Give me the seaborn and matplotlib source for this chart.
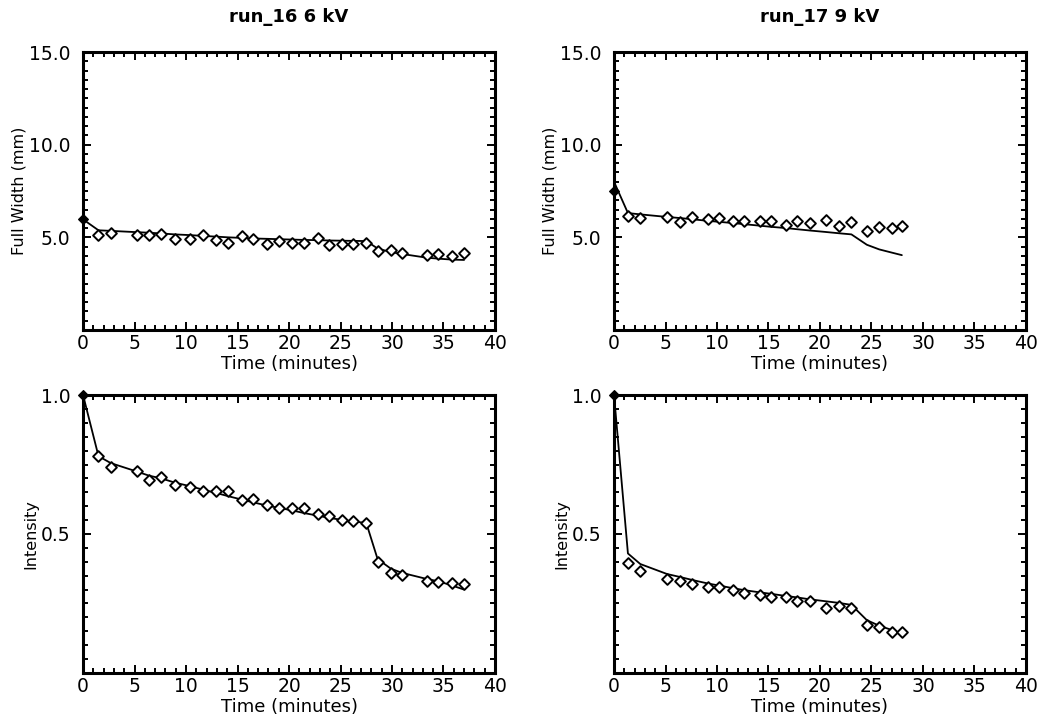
import matplotlib
matplotlib.use("Agg")
import matplotlib.pyplot as plt
import seaborn as sns
import pandas as pd
from matplotlib.ticker import MultipleLocator, FixedLocator, FormatStrFormatter

# run_16, 6 kV
t16 = [0, 1.5, 2.7, 5.2, 6.4, 7.6, 8.9, 10.4, 11.6, 12.9, 14.1, 15.4, 16.5, 17.9, 19.0,
       20.3, 21.5, 22.8, 23.9, 25.1, 26.2, 27.5, 28.6, 29.9, 31.0, 33.4, 34.5, 35.8, 37.0]
width16 = [5.97, 5.11, 5.25, 5.13, 5.13, 5.18, 4.93, 4.93, 5.15, 4.85, 4.71, 5.05, 4.89, 4.64, 4.78,
           4.68, 4.71, 4.95, 4.60, 4.64, 4.66, 4.68, 4.26, 4.30, 4.17, 4.03, 4.08, 3.97, 4.15]
width16_fit = [5.97, 5.38, 5.35, 5.28, 5.25, 5.21, 5.16, 5.12, 5.08, 5.04, 5.00, 4.97, 4.94, 4.92, 4.90,
               4.88, 4.86, 4.85, 4.83, 4.82, 4.81, 4.80, 4.40, 4.20, 4.10, 3.90, 3.85, 3.80, 3.78]
int16 = [1.00, 0.779, 0.740, 0.726, 0.696, 0.704, 0.676, 0.670, 0.656, 0.656, 0.656, 0.624, 0.626, 0.603, 0.595,
         0.592, 0.593, 0.571, 0.565, 0.551, 0.545, 0.541, 0.399, 0.358, 0.351, 0.330, 0.327, 0.322, 0.320]
int16_fit = [1.00, 0.780, 0.755, 0.725, 0.710, 0.700, 0.685, 0.672, 0.660, 0.648, 0.636, 0.624, 0.614, 0.602, 0.594,
             0.585, 0.575, 0.566, 0.558, 0.551, 0.545, 0.540, 0.410, 0.375, 0.360, 0.338, 0.330, 0.315, 0.300]

# run_17, 9 kV
t17 = [0, 1.35, 2.55, 5.15, 6.45, 7.55, 9.1, 10.15, 11.55, 12.65, 14.15, 15.2, 16.7, 17.75, 19.0,
       20.55, 21.85, 23.05, 24.55, 25.75, 26.95, 27.95]
width17 = [7.50, 6.14, 6.03, 6.10, 5.81, 6.08, 5.99, 6.03, 5.88, 5.86, 5.86, 5.88, 5.66, 5.88, 5.79,
           5.92, 5.63, 5.81, 5.32, 5.58, 5.50, 5.59]
width17_fit = [8.00, 6.31, 6.24, 6.10, 6.04, 5.98, 5.89, 5.84, 5.77, 5.71, 5.63, 5.57, 5.50, 5.44, 5.37,
               5.29, 5.22, 5.16, 4.60, 4.35, 4.18, 4.04]
int17 = [1.00, 0.396, 0.367, 0.337, 0.331, 0.321, 0.308, 0.310, 0.300, 0.289, 0.282, 0.272, 0.274, 0.259, 0.259,
         0.235, 0.242, 0.234, 0.173, 0.167, 0.149, 0.149]
int17_fit = [1.00, 0.430, 0.392, 0.356, 0.345, 0.335, 0.322, 0.315, 0.305, 0.298, 0.290, 0.285, 0.277, 0.272, 0.265,
             0.258, 0.252, 0.245, 0.190, 0.170, 0.155, 0.137]

sns.set_style("ticks", {'axes.edgecolor': 'black', 'text.color': 'black',
                        'xtick.color': 'black', 'ytick.color': 'black', 'axes.labelcolor': 'black'})
plt.rcParams['font.family'] = ['DejaVu Sans']


def panel(ax, t, y, fit, ymax, ystep, yticks, ylabel, title=None):
    df = pd.DataFrame({'t': t, 'y': y, 'fit': fit})
    sns.lineplot(data=df, x='t', y='fit', ax=ax, color='black', lw=1.3, sort=False, zorder=2)
    sns.scatterplot(data=df.iloc[1:], x='t', y='y', ax=ax, marker='D', s=30,
                    color='white', edgecolor='black', linewidth=1.4, zorder=3)
    sns.scatterplot(data=df.iloc[:1], x='t', y='y', ax=ax, marker='D', s=24,
                    color='black', edgecolor='black', linewidth=1, zorder=4, clip_on=False)
    ax.set_xlim(0, 40)
    ax.set_ylim(0, ymax)
    ax.xaxis.set_major_locator(MultipleLocator(5))
    ax.xaxis.set_minor_locator(MultipleLocator(1))
    ax.yaxis.set_major_locator(FixedLocator(yticks))
    ax.yaxis.set_minor_locator(MultipleLocator(ystep))
    ax.yaxis.set_major_formatter(FormatStrFormatter('%.1f'))
    ax.tick_params(which='both', direction='in', top=True, right=True, width=1.4, labelsize=13.5)
    ax.tick_params(axis='x', which='major', length=6, pad=3)
    ax.tick_params(axis='y', which='major', length=6, pad=9)
    ax.tick_params(which='minor', length=3.5)
    for s in ax.spines.values():
        s.set_linewidth(2.2)
    ax.set_xlabel('Time (minutes)', fontsize=13, labelpad=1)
    ax.set_ylabel(ylabel, fontsize=11.5, labelpad=2)
    if title:
        ax.set_title(title, fontsize=13, fontweight='bold', pad=22)


fig, axes = plt.subplots(2, 2, figsize=(10.42, 7.23), dpi=100)
fig.subplots_adjust(left=0.0797, right=0.9846, top=0.928, bottom=0.0692, wspace=0.289, hspace=0.234)

panel(axes[0, 0], t16, width16, width16_fit, 15, 0.5, [5, 10, 15], 'Full Width (mm)', 'run_16 6 kV')
panel(axes[0, 1], t17, width17, width17_fit, 15, 0.5, [5, 10, 15], 'Full Width (mm)', 'run_17 9 kV')
panel(axes[1, 0], t16, int16, int16_fit, 1.0, 0.05, [0.5, 1.0], 'Intensity')
panel(axes[1, 1], t17, int17, int17_fit, 1.0, 0.05, [0.5, 1.0], 'Intensity')

fig.savefig('out.png', dpi=100, facecolor='white')
